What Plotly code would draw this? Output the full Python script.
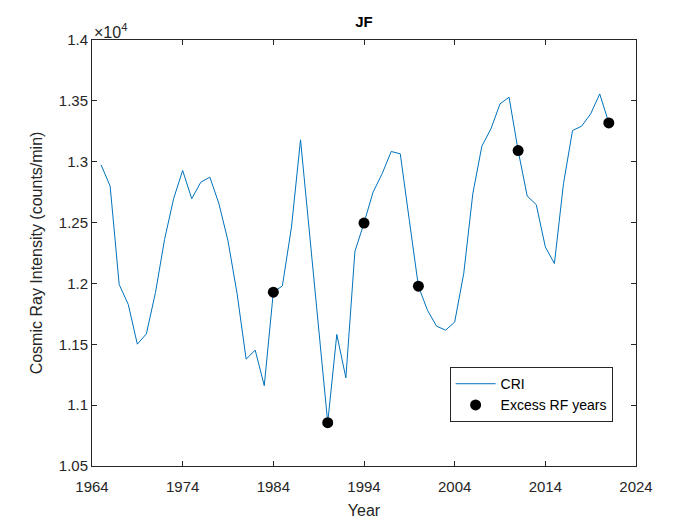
import plotly.graph_objects as go

years = list(range(1965, 2022))
cri = [12975, 12800, 11991, 11827, 11501, 11586, 11925, 12360, 12696, 12928,
       12696, 12832, 12873, 12655, 12349, 11917, 11378, 11452, 11160, 11928,
       11980, 12463, 13180, 12400, 11620, 10856, 11581, 11225, 12264, 12496,
       12750, 12901, 13084, 13065, 12518, 11977, 11780, 11649, 11616, 11682,
       12081, 12737, 13128, 13270, 13475, 13530, 13092, 12718, 12647, 12300,
       12163, 12819, 13256, 13292, 13393, 13557, 13319]
excess_years = [1984, 1990, 1994, 2000, 2011, 2021]
excess_vals = [cri[years.index(y)] for y in excess_years]

xticks = [1964, 1974, 1984, 1994, 2004, 2014, 2024]
yticks = [10500, 11000, 11500, 12000, 12500, 13000, 13500, 14000]
ytick_labels = ["1.05", "1.1", "1.15", "1.2", "1.25", "1.3", "1.35", "1.4"]

FONT = "Liberation Sans, Arial, sans-serif"

fig = go.Figure()
fig.add_trace(go.Scatter(x=years, y=cri, mode="lines", name="CRI",
                         line=dict(color="#0072BD", width=1)))
fig.add_trace(go.Scatter(x=excess_years, y=excess_vals, mode="markers",
                         name="Excess RF years",
                         marker=dict(color="black", size=11, symbol="circle")))

axis_common = dict(showline=True, linecolor="#262626", linewidth=1, mirror="ticks",
                   ticks="inside", ticklen=5, tickcolor="#262626", showgrid=False,
                   zeroline=False, automargin=False,
                   tickfont=dict(family=FONT, size=15, color="#262626"))

fig.update_layout(
    width=700, height=525,
    margin=dict(l=84, r=72, t=32, b=67),
    paper_bgcolor="white", plot_bgcolor="white",
    font=dict(family=FONT, color="#262626"),
    title=dict(text="<b>JF</b>", x=(84 + (700 - 72)) / 2 / 700, xanchor="center",
               y=1 - 14 / 525, yanchor="middle", font=dict(size=15, family=FONT, color="black"),
               automargin=False),
    xaxis=dict(range=[1964, 2024], tickvals=xticks, ticklabelstandoff=7,
               title=dict(text="Year", font=dict(size=16, family=FONT), standoff=10),
               **axis_common),
    yaxis=dict(range=[10500, 14000], tickvals=yticks, ticktext=ytick_labels,
               title=dict(text="Cosmic Ray Intensity (counts/min)", font=dict(size=16, family=FONT), standoff=12),
               **axis_common),
    legend=dict(x=0.957, y=0.103, xanchor="right", yanchor="bottom",
                bordercolor="#262626", borderwidth=1, bgcolor="white",
                font=dict(family=FONT, size=14, color="black"),
                tracegroupgap=0, itemwidth=40),
    showlegend=True,
)
fig.add_annotation(xref="paper", yref="paper", x=0, y=1, xanchor="left", yanchor="bottom",
                   text="×10<sup>4</sup>", showarrow=False,
                   font=dict(family=FONT, size=16, color="#262626"), yshift=-3)

fig.write_html("out.html")
